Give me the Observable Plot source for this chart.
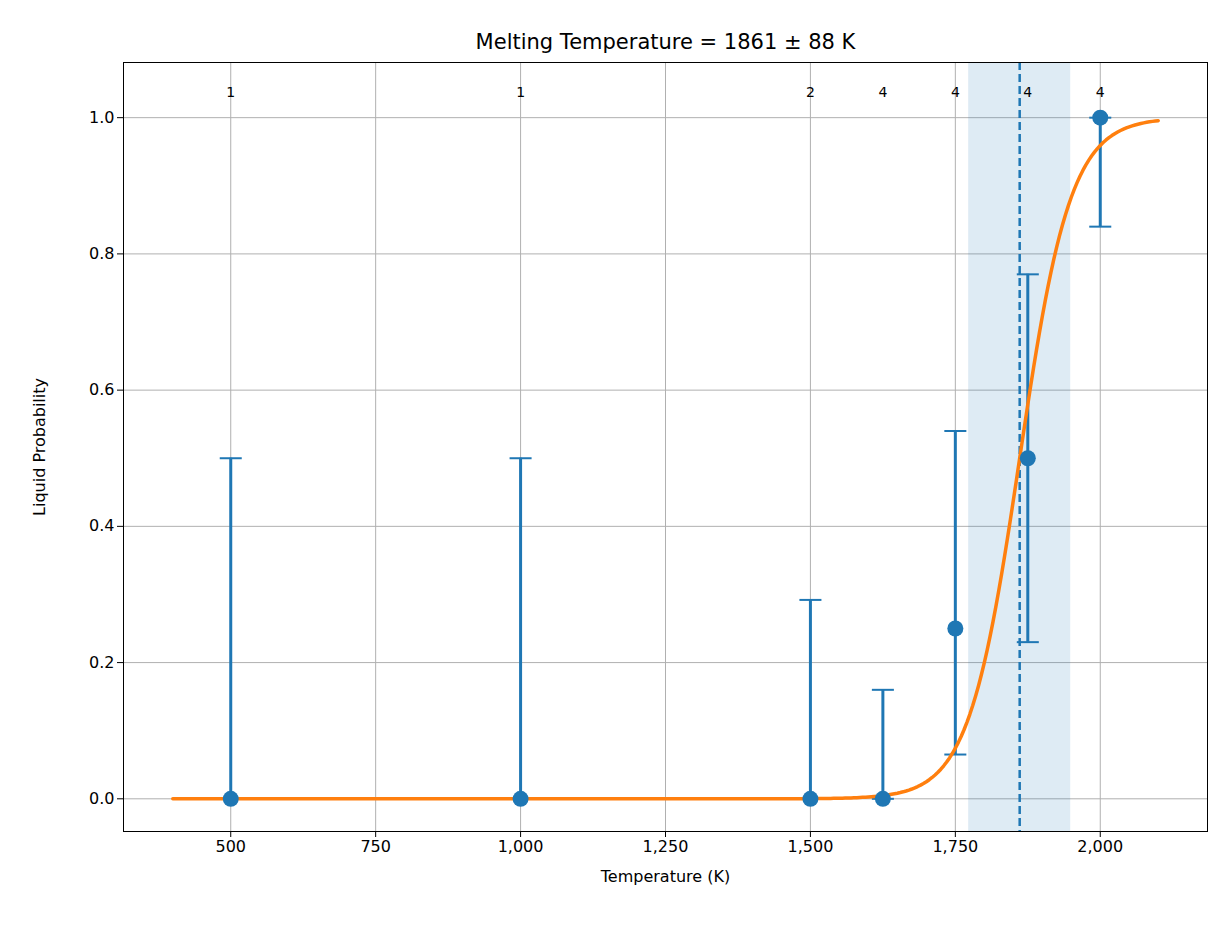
<!DOCTYPE html>
<html><head><meta charset="utf-8">
<script src="https://cdn.jsdelivr.net/npm/d3@7"></script>
<script src="https://cdn.jsdelivr.net/npm/@observablehq/plot@0.6"></script>
<style>body{margin:0;background:#fff;font-family:"DejaVu Sans",sans-serif}</style>
</head><body><div id="c"></div>
<script>
const temps = [500, 1000, 1500, 1625, 1750, 1875, 2000];
const probs = [0, 0, 0, 0, 0.25, 0.5, 1.0];
const lower = [0, 0, 0, 0, 0.065, 0.23, 0.84];
const upper = [0.5, 0.5, 0.292, 0.16, 0.54, 0.77, 1.0];
const counts = [1, 1, 2, 4, 4, 4, 4];
const xTicks = [500, 750, 1000, 1250, 1500, 1750, 2000];
const yTicks = [0, 0.2, 0.4, 0.6, 0.8, 1.0];
const tMelt = 1861, tErr = 88, fitWidth = 44;
const curveRange = [400, 2100];

const pts = temps.map((t,i)=>({t, p:probs[i], lo:lower[i], hi:upper[i], n:counts[i]}));
const curve = d3.range(curveRange[0], curveRange[1]+1, 5).map(t=>({t, p:1/(1+Math.exp(-(t-tMelt)/fitWidth))}));
const blue = "#1f77b4";
const capHalf = 19; // in K, visual cap half-width
const caps = pts.flatMap(d => [{t:d.t, y:d.lo}, {t:d.t, y:d.hi}]);

const plot = Plot.plot({
  width: 1227, height: 939,
  marginLeft: 123, marginRight: 20, marginTop: 62, marginBottom: 108,
  style: {fontFamily: "DejaVu Sans", fontSize: "16px", color: "#000"},
  x: {domain: [315, 2185], ticks: xTicks, label: "Temperature (K)", labelAnchor: "center", labelArrow: "none", labelOffset: 50, tickSize: 6},
  y: {domain: [-0.048, 1.081], ticks: yTicks, tickFormat: ".1f", label: "Liquid Probability", labelAnchor: "center", labelArrow: "none", labelOffset: 90, tickSize: 6},
  marks: [
    Plot.ruleX(xTicks, {stroke: "#b0b0b0"}),
    Plot.ruleY(yTicks, {stroke: "#b0b0b0"}),
    Plot.rectX([{a: tMelt - tErr, b: tMelt + tErr}], {x1: "a", x2: "b", fill: blue, fillOpacity: 0.15}),
    Plot.ruleX([tMelt], {stroke: blue, strokeWidth: 2.5, strokeDasharray: "8,4"}),
    Plot.ruleX(pts, {x: "t", y1: "lo", y2: "hi", stroke: blue, strokeWidth: 3}),
    Plot.link(caps, {x1: d => d.t - capHalf, x2: d => d.t + capHalf, y1: "y", y2: "y", stroke: blue, strokeWidth: 2}),
    Plot.line(curve, {x: "t", y: "p", stroke: "#ff7f0e", strokeWidth: 3.5}),
    Plot.dot(pts, {x: "t", y: "p", r: 8, fill: blue}),
    Plot.text(pts, {x: "t", y: () => 1.037, text: d => String(d.n), fontSize: 14}),
    Plot.text(["Melting Temperature = 1861 ± 88 K"], {frameAnchor: "top", dy: -28, fontSize: 21}),
    Plot.frame({stroke: "#000"})
  ]
});
document.getElementById("c").appendChild(plot);
</script>
</body></html>
